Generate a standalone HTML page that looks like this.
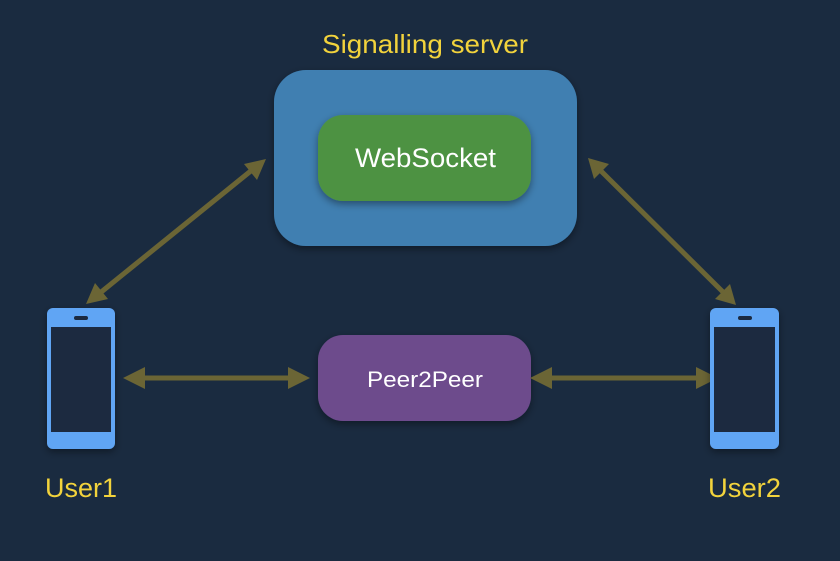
<!DOCTYPE html>
<html><head><style>
body{margin:0;width:840px;height:556px;background:#1a2b40;overflow:hidden;font-family:"Liberation Sans",sans-serif}
</style></head><body>
<svg width="840" height="556" xmlns="http://www.w3.org/2000/svg">
<defs>
<filter id="s" x="-20%" y="-20%" width="140%" height="140%"><feDropShadow dx="0" dy="3" stdDeviation="4" flood-color="#000" flood-opacity="0.4"/></filter>
</defs>
<rect width="840" height="556" fill="#1a2b40"/>
<text x="322" y="53" fill="#f2d33c" font-size="26" textLength="206" lengthAdjust="spacingAndGlyphs">Signalling server</text>
<rect x="274" y="70" width="303" height="176" rx="32" fill="#3f7fb1" filter="url(#s)"/>
<rect x="318" y="115" width="213" height="86" rx="25" fill="#4d9243" filter="url(#s)"/>
<text x="355" y="167" fill="#fff" font-size="27" textLength="141" lengthAdjust="spacingAndGlyphs">WebSocket</text>
<rect x="318" y="335" width="213" height="86" rx="25" fill="#6d4b8c" filter="url(#s)"/>
<text x="367" y="387" fill="#fff" font-size="22" textLength="116" lengthAdjust="spacingAndGlyphs">Peer2Peer</text>
<g fill="#6b6535" stroke="#6b6535">
<line x1="100" y1="293" x2="252" y2="170" stroke-width="5"/>
<polygon points="86,304 95,283 108,299" stroke="none"/>
<polygon points="266,159 244,164 257,180" stroke="none"/>
<line x1="600" y1="170" x2="725" y2="294" stroke-width="5"/>
<polygon points="588,158 609,164 594,179" stroke="none"/>
<polygon points="736,305 715,299 730,284" stroke="none"/>
<line x1="135" y1="378" x2="298" y2="378" stroke-width="5"/>
<polygon points="123,378 145,367 145,389" stroke="none"/>
<polygon points="310,378 288,367 288,389" stroke="none"/>
<line x1="542" y1="378" x2="706" y2="378" stroke-width="5"/>
<polygon points="530,378 552,367 552,389" stroke="none"/>
<polygon points="718,378 696,367 696,389" stroke="none"/>
</g>
<g filter="url(#s)">
<rect x="47" y="308" width="68" height="141" rx="6" fill="#60a5f4"/>
<rect x="51" y="327" width="60" height="105" fill="#1a2b40"/>
<rect x="74" y="316" width="14" height="4" rx="2" fill="#1a2b40"/>
<rect x="710" y="308" width="69" height="141" rx="6" fill="#60a5f4"/>
<rect x="714" y="327" width="61" height="105" fill="#1a2b40"/>
<rect x="738" y="316" width="14" height="4" rx="2" fill="#1a2b40"/>
</g>
<text x="45" y="497" fill="#f2d33c" font-size="27" textLength="72" lengthAdjust="spacingAndGlyphs">User1</text>
<text x="708" y="497" fill="#f2d33c" font-size="27" textLength="73" lengthAdjust="spacingAndGlyphs">User2</text>
</svg>
</body></html>
